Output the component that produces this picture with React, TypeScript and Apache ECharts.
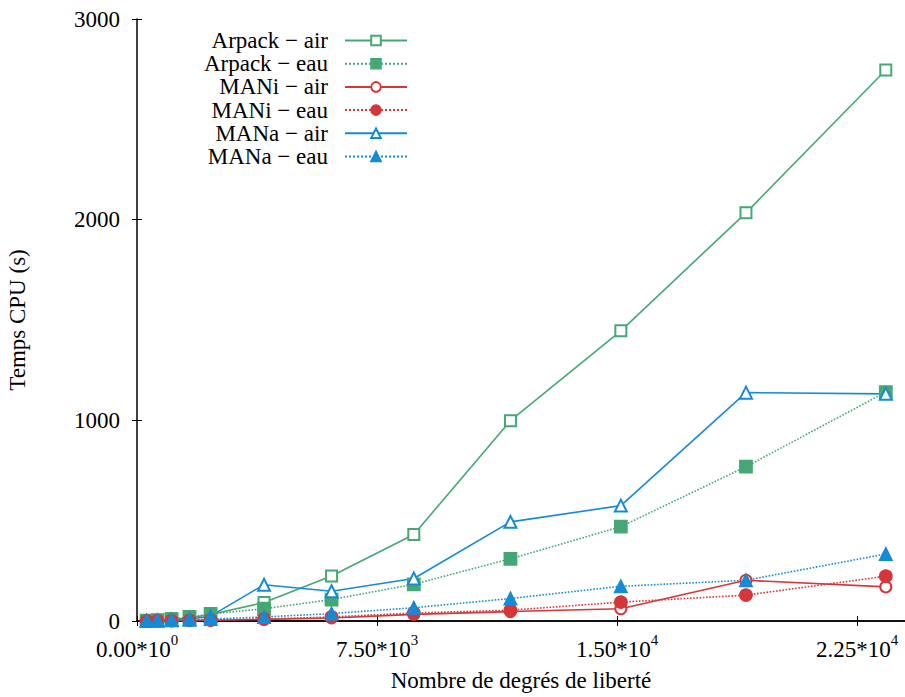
import React, { useEffect, useRef } from "react";
import * as echarts from "echarts";

const dof = [300, 640, 1080, 1640, 2300, 3970, 6080, 8650, 11670, 15120, 19030, 23400];
const arpackAir = [2, 4, 9, 16, 32, 92, 224, 431, 998, 1446, 2034, 2746];
const arpackEau = [2, 4, 10, 20, 35, 61, 107, 183, 310, 470, 769, 1141];
const maniAir = [0.5, 1, 2, 3, 4, 8, 15, 33, 47, 61, 203, 170];
const maniEau = [0.5, 1, 2, 3, 5, 10, 20, 40, 54, 94, 129, 223];
const manaAir = [1, 2, 5, 10, 24, 181, 148, 212, 494, 575, 1138, 1132];
const manaEau = [0.5, 1, 3, 6, 10, 20, 37, 66, 112, 173, 203, 334];

const xTickValues = [0, 7500, 15000, 22500];
const xTickMantissa = ["0.00*10", "7.50*10", "1.50*10", "2.25*10"];
const xTickExponent = ["0", "3", "4", "4"];
const yTickValues = [0, 1000, 2000, 3000];
const yTickLabels = ["0", "1000", "2000", "3000"];

const GREEN = "#45a874";
const RED = "#d4363a";
const BLUE = "#168bd5";
const FONT = "'Liberation Serif', 'Times New Roman', serif";

export default function App() {
  const ref = useRef<HTMLDivElement>(null);
  useEffect(() => {
    document.body.style.margin = "0";
    const chart = echarts.init(ref.current!, null, { renderer: "svg" });
    const pairs = (arr: number[]) => dof.map((x, i) => [x, arr[i]]);
    const mk = (name: string, arr: number[], color: string, symbol: string, dotted: boolean, size: number) => ({
      name,
      type: "line",
      data: pairs(arr),
      xAxisIndex: 0,
      yAxisIndex: 0,
      symbol,
      symbolSize: size,
      showAllSymbol: true,
      color,
      lineStyle: { color, width: 1.6, type: dotted ? "dotted" : "solid" },
      itemStyle: { color, borderColor: color, borderWidth: 1.8 },
      emphasis: { disabled: true },
    });
    chart.setOption({
      animation: false,
      textStyle: { fontFamily: FONT },
      grid: { left: 137, right: 0, top: 19, bottom: 76, containLabel: false, outerBoundsMode: "none" },
      legend: {
        orient: "vertical",
        left: 193,
        top: 24,
        align: "right",
        itemWidth: 62,
        itemHeight: 12,
        itemGap: 0.2,
        selectedMode: false,
        formatter: (n: string) => `{a|${n}}`,
        textStyle: {
          fontFamily: FONT,
          color: "#000",
          rich: { a: { width: 130, align: "right", fontSize: 23, lineHeight: 24, fontFamily: FONT, color: "#000", padding: [0, 12, 0, 0] } },
        },
      },
      xAxis: [
        {
          type: "value",
          min: 0,
          max: 24000,
          interval: 7500,
          position: "bottom",
          name: "Nombre de degrés de liberté",
          nameLocation: "middle",
          nameGap: 48,
          nameTextStyle: { fontFamily: FONT, fontSize: 23, color: "#000" },
          axisLine: { lineStyle: { color: "#000", width: 1.5 } },
          axisTick: { inside: true, length: 5, lineStyle: { color: "#000" } },
          splitLine: { show: false },
          axisLabel: {
            margin: 11,
            fontFamily: FONT,
            hideOverlap: false,
            formatter: (v: number) => {
              const i = xTickValues.indexOf(v);
              return i < 0 ? "" : `{m|${xTickMantissa[i]}}{e|${xTickExponent[i]}}`;
            },
            rich: {
              m: { fontFamily: FONT, fontSize: 23, color: "#000", lineHeight: 24 },
              e: { fontFamily: FONT, fontSize: 15, color: "#000", padding: [0, 0, 20, 0] },
            },
          },
        },
        {
          type: "value",
          min: 0,
          max: 24000,
          interval: 7500,
          position: "top",
          axisLine: { lineStyle: { color: "#000", width: 1.5 } },
          axisTick: { inside: true, length: 5, lineStyle: { color: "#000" } },
          axisLabel: { show: false },
          splitLine: { show: false },
        },
      ],
      yAxis: [
        {
          type: "value",
          min: 0,
          max: 3000,
          interval: 1000,
          position: "left",
          name: "Temps CPU (s)",
          nameLocation: "middle",
          nameGap: 108,
          nameRotate: 90,
          nameTextStyle: { fontFamily: FONT, fontSize: 23, color: "#000" },
          axisLine: { show: true, lineStyle: { color: "#000", width: 1.5 } },
          axisTick: { show: true, inside: true, length: 5, lineStyle: { color: "#000" } },
          splitLine: { show: false },
          axisLabel: {
            margin: 17,
            fontFamily: FONT,
            fontSize: 23,
            color: "#000",
            formatter: (v: number) => {
              const i = yTickValues.indexOf(v);
              return i < 0 ? "" : yTickLabels[i];
            },
          },
        },
        {
          type: "value",
          min: 0,
          max: 3000,
          interval: 1000,
          position: "right",
          axisLine: { show: false },
          axisTick: { show: true, inside: true, length: 5, lineStyle: { color: "#000" } },
          axisLabel: { show: false },
          splitLine: { show: false },
        },
      ],
      series: [
        mk("Arpack − air", arpackAir, GREEN, "emptyRect", false, 11),
        mk("Arpack − eau", arpackEau, GREEN, "rect", true, 12),
        mk("MANi − air", maniAir, RED, "emptyCircle", false, 11),
        mk("MANi − eau", maniEau, RED, "circle", true, 12),
        mk("MANa − air", manaAir, BLUE, "emptyTriangle", false, 12),
        mk("MANa − eau", manaEau, BLUE, "triangle", true, 12),
      ],
    });
    return () => chart.dispose();
  }, []);
  return <div ref={ref} style={{ width: 905, height: 697 }} />;
}
